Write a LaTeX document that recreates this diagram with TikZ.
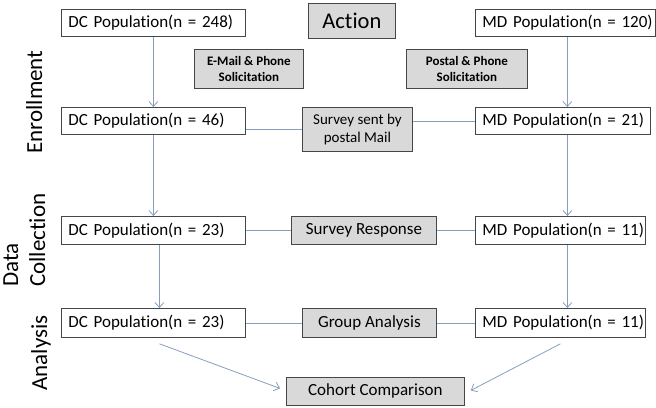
\documentclass[tikz,border=0pt]{standalone}
\usepackage{fontspec}
\setmainfont{Carlito}[Ligatures=NoCommon]
\usetikzlibrary{arrows.meta,calc}
\definecolor{linec}{RGB}{135,158,190}
\definecolor{grayfill}{RGB}{217,217,217}
\definecolor{boxline}{RGB}{70,70,70}
\tikzset{
  popbox/.style={draw=boxline, line width=0.8pt, fill=white, anchor=north west, inner xsep=7pt, inner ysep=0pt, align=left, font=\fontsize{17}{20}\selectfont},
  actbox/.style={draw=boxline, line width=0.8pt, fill=grayfill, anchor=north west, inner sep=0pt, align=center, font=\fontsize{17}{20}\selectfont},
  conn/.style={draw=linec, line width=0.8pt},
  arr/.style={conn, -{Straight Barb[length=5pt,width=9pt]}},
  side/.style={rotate=90, inner sep=0pt, font=\fontsize{23}{26}\selectfont}
}
\begin{document}
\begin{tikzpicture}[x=1pt,y=-1pt]
\useasboundingbox (0,0) rectangle (656,407);
% population boxes
\node[popbox, text width=170pt, minimum height=27pt] (dcA) at (61,9) {\mbox{DC Population(n = 248)}};
\node[popbox, text width=170pt, minimum height=27pt] (dcB) at (61,107) {\mbox{DC Population(n = 46)}};
\node[popbox, text width=170pt, minimum height=28pt] (dcC) at (61,216) {\mbox{DC Population(n = 23)}};
\node[popbox, text width=170pt, minimum height=29pt] (dcD) at (61,308) {\mbox{DC Population(n = 23)}};
\node[popbox, text width=166pt, minimum height=27pt] (mdA) at (475,9) {\mbox{MD Population(n = 120)}};
\node[popbox, text width=161pt, minimum height=27pt] (mdB) at (475,107) {\mbox{MD Population(n = 21)}};
\node[popbox, text width=156pt, minimum height=28pt] (mdC) at (475,216) {\mbox{MD Population(n = 11)}};
\node[popbox, text width=156pt, minimum height=29pt] (mdD) at (475,308) {\mbox{MD Population(n = 11)}};
% action boxes
\node[actbox, minimum width=87pt, minimum height=35pt, font=\fontsize{22.5}{26}\selectfont] (action) at (308,3) {Action};
\node[actbox, minimum width=109pt, minimum height=39pt, font=\fontsize{13}{16}\selectfont\bfseries] (email) at (194,49) {E-Mail \& Phone\\Solicitation};
\node[actbox, minimum width=121pt, minimum height=39pt, font=\fontsize{13}{16}\selectfont\bfseries] (postal) at (406,49) {Postal \& Phone\\Solicitation};
\node[actbox, minimum width=110pt, minimum height=44pt, font=\fontsize{15}{18}\selectfont] (survey) at (302,107) {Survey sent by\\postal Mail};
\node[actbox, minimum width=145pt, minimum height=28pt] (resp) at (291,216) {Survey Response};
\node[actbox, minimum width=134pt, minimum height=29pt] (group) at (302,308) {Group Analysis};
\node[actbox, minimum width=178pt, minimum height=28pt] (cohort) at (286,377) {Cohort Comparison};
% side labels
\node[side, anchor=base] (enr) at (42,102) {Enrollment};
\node[side, anchor=base west] (data) at (18,287) {Data};
\node[side, anchor=base west] (coll) at (45,287) {Collection};
\node[side, anchor=base] (ana) at (47,353) {Analysis};
% vertical arrows
\draw[arr] (dcA.south) -- (dcA.south |- dcB.north);
\draw[arr] ([xshift=2pt]mdA.south) -- ([xshift=2pt]mdA.south |- mdB.north);
\draw[arr] (dcB.south) -- (dcB.south |- dcC.north);
\draw[arr] ([xshift=2pt]mdA.south |- mdB.south) -- ([xshift=2pt]mdA.south |- mdC.north);
\draw[arr] ([xshift=6pt]dcC.south) -- ([xshift=6pt]dcC.south |- dcD.north);
\draw[arr] ([xshift=2pt]mdA.south |- mdC.south) -- ([xshift=2pt]mdA.south |- mdD.north);
% diagonal arrows
\draw[arr] ([xshift=6pt,yshift=-6pt]dcD.south) -- ([xshift=-6pt,yshift=3pt]cohort.west);
\draw[arr] ([yshift=-6pt]mdD.south) -- ([xshift=6pt,yshift=1pt]cohort.east);
% horizontal lines
\draw[conn] ([yshift=-8pt]dcB.east) -- ([yshift=-8pt]dcB.east -| survey.west);
\draw[conn] (survey.east |- mdB.west) -- (mdB.west);
\draw[conn] (dcC.east) -- (resp.west |- dcC.east);
\draw[conn] (resp.east |- mdC.west) -- (mdC.west);
\draw[conn] (dcD.east) -- (group.west |- dcD.east);
\draw[conn] (group.east |- mdD.west) -- (mdD.west);
\end{tikzpicture}
\end{document}
